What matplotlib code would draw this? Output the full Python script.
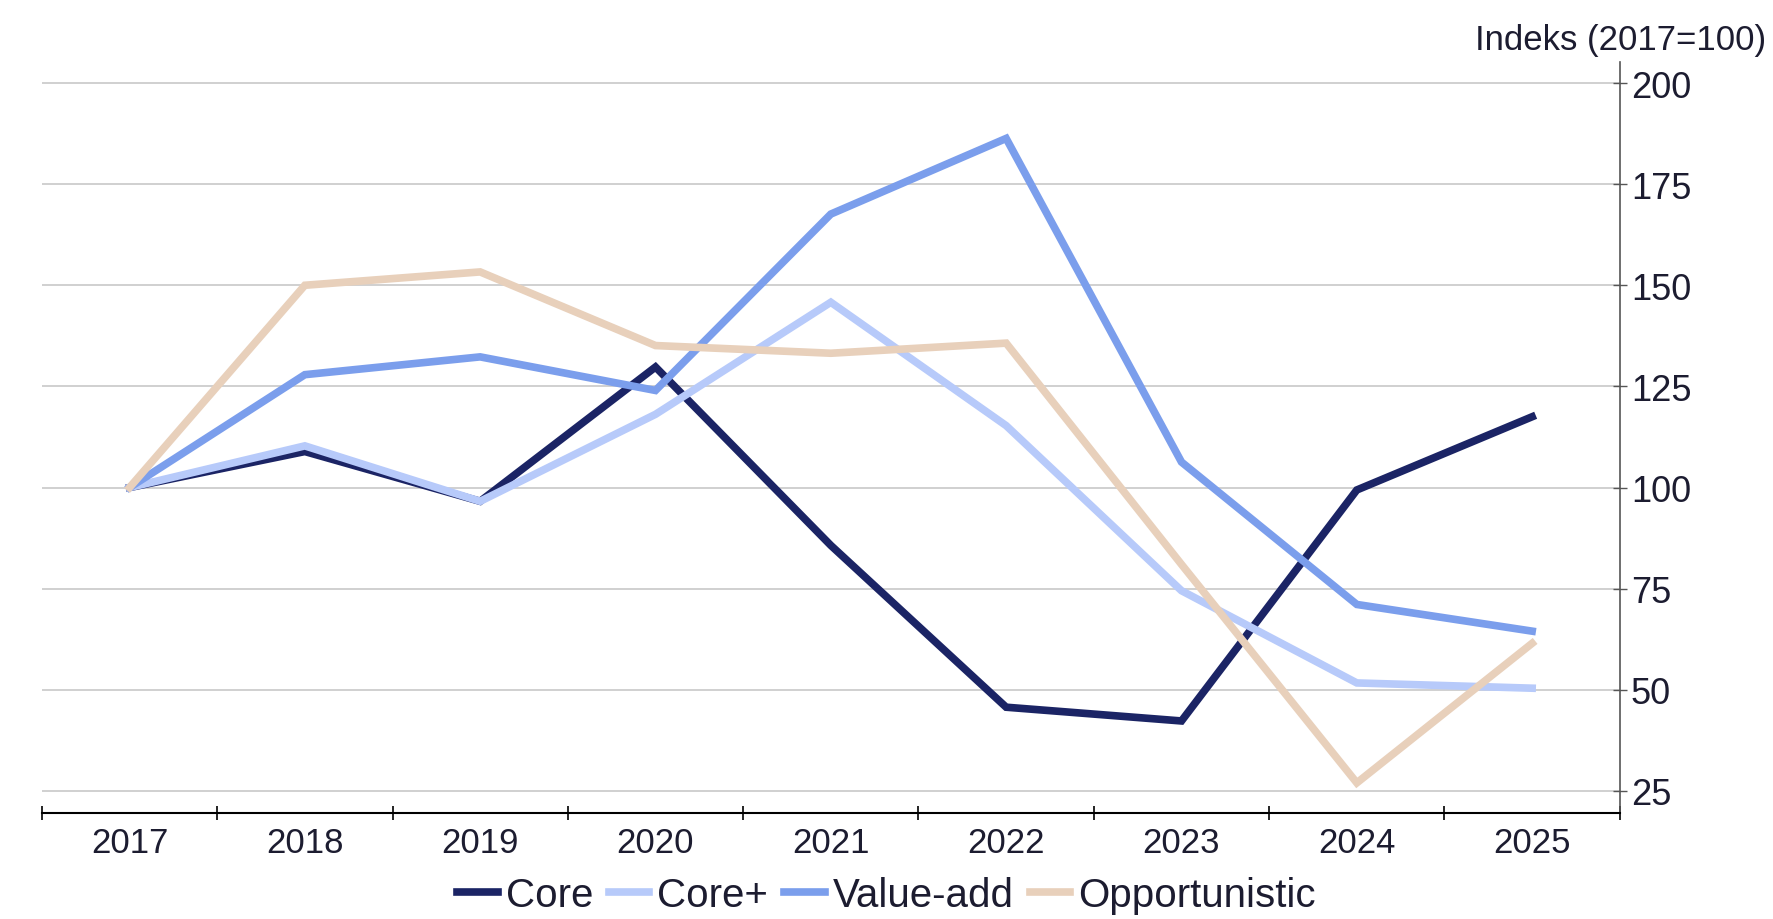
import matplotlib.pyplot as plt
from matplotlib.ticker import FixedLocator

plt.rcParams['font.family'] = ['Liberation Sans', 'DejaVu Sans']

years = ['2017', '2018', '2019', '2020', '2021', '2022', '2023', '2024', '2025']
core = [100, 108.9, 96.6, 129.8, 85.7, 45.7, 42.3, 99.4, 117.5]
core_plus = [100, 110.3, 96.6, 118.1, 145.8, 115.3, 74.5, 51.7, 50.4]
value_add = [100, 127.9, 132.3, 124.0, 167.6, 186.3, 106.3, 71.1, 64.5]
opportunistic = [100, 150.0, 153.3, 135.1, 133.2, 135.7, 81.0, 27.0, 61.5]

series = [('Core', core, '#1b2465'),
          ('Core+', core_plus, '#b7cafa'),
          ('Value-add', value_add, '#7b9eec'),
          ('Opportunistic', opportunistic, '#e8d0bb')]

text_col = '#1c1c30'

fig = plt.figure(figsize=(17.73, 9.2), dpi=100)
ax = fig.add_axes([0.0236, 0.115, 0.89, 0.817])

x = range(len(years))
for name, vals, col in series:
    ax.plot(x, vals, color=col, lw=5.5, label=name, solid_joinstyle='miter')

ax.set_xlim(-0.5, len(years) - 0.5)
ax.set_ylim(19.5, 205.3)

ax.yaxis.tick_right()
ax.set_yticks([25, 50, 75, 100, 125, 150, 175, 200])
ax.grid(axis='y', color='#c8c8c8', lw=1.2)
ax.set_axisbelow(True)

ax.set_xticks(list(x))
ax.set_xticklabels(years)
ax.xaxis.set_minor_locator(FixedLocator([i - 0.5 for i in range(len(years) + 1)]))
ax.tick_params(axis='x', which='major', length=0, pad=9, labelsize=25, labelcolor=text_col)
ax.tick_params(axis='x', which='minor', length=10, direction='inout', width=1.2)
ax.tick_params(axis='y', length=10, direction='inout', width=1, pad=3,
               labelsize=26, labelcolor=text_col, color='#555555')

for s in ['top', 'left']:
    ax.spines[s].set_visible(False)
ax.spines['bottom'].set_linewidth(1.5)
ax.spines['right'].set_color('#555555')
ax.spines['right'].set_linewidth(1.2)

fig.text(0.996, 0.956, 'Indeks (2017=100)', ha='right', va='center',
         fontsize=25, color=text_col)

leg = fig.legend(loc='center', bbox_to_anchor=(0.5, 0.026), ncol=4, frameon=False,
                 fontsize=29, handlelength=1.0, handletextpad=0.2, columnspacing=0.4,
                 labelcolor=text_col)

fig.savefig('out.png', dpi=100)
